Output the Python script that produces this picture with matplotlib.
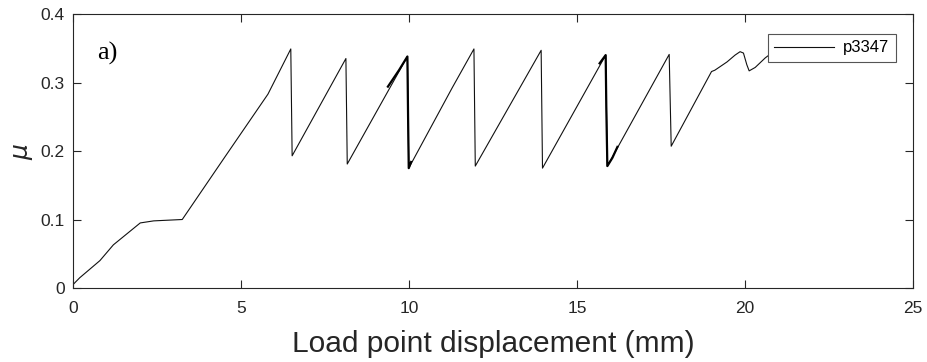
import matplotlib
matplotlib.use("Agg")
import matplotlib.pyplot as plt

# friction coefficient vs load point displacement, run p3347
disp = [0.0, 0.2, 0.8, 1.2, 2.0, 2.4, 3.25, 4.5, 5.8, 6.48, 6.52,
        8.12, 8.16, 9.95, 9.99, 11.28, 11.93, 11.97,
        13.93, 13.97, 15.85, 15.9, 17.74, 17.8,
        19.0, 19.1, 19.46, 19.7, 19.85, 19.95, 20.05, 20.12,
        20.3, 20.6, 20.9]
mu = [0.005, 0.015, 0.04, 0.063, 0.095, 0.098, 0.1, 0.19, 0.283, 0.349, 0.193,
      0.335, 0.181, 0.338, 0.175, 0.292, 0.349, 0.178,
      0.347, 0.175, 0.340, 0.178, 0.341, 0.207,
      0.316, 0.318, 0.330, 0.340, 0.345, 0.343, 0.326, 0.317,
      0.322, 0.336, 0.347]

# noisier (thicker-looking) stretches
bold1_x = [9.37, 9.7, 9.95, 9.97, 9.99, 10.06]
bold1_mu = [0.294, 0.318, 0.338, 0.25, 0.175, 0.184]
bold2_x = [15.67, 15.85, 15.87, 15.9, 16.05, 16.2]
bold2_mu = [0.328, 0.340, 0.26, 0.178, 0.190, 0.206]

xticks = [0, 5, 10, 15, 20, 25]
yticks = [0, 0.1, 0.2, 0.3, 0.4]

plt.rcParams['font.family'] = ['Liberation Sans', 'DejaVu Sans']
axcol = '#262626'

fig = plt.figure(figsize=(9.28, 3.62), dpi=100)
ax = fig.add_axes([0.0787, 0.2044, 0.9053, 0.7569])

ax.plot(disp, mu, color='#111111', lw=0.8, label='p3347')
ax.plot(bold1_x, bold1_mu, color='#000000', lw=1.6)
ax.plot(bold2_x, bold2_mu, color='#000000', lw=1.6)

ax.set_xlim(0, 25)
ax.set_ylim(0, 0.4)
ax.set_xticks(xticks)
ax.set_yticks(yticks)
ax.set_xticklabels([str(t) for t in xticks])
ax.set_yticklabels(['0', '0.1', '0.2', '0.3', '0.4'])
ax.tick_params(direction='in', length=6, width=0.8, colors=axcol,
               labelsize=12.5, top=True, right=True)
ax.tick_params(axis='x', pad=9.5)
ax.tick_params(axis='y', pad=6)
for s in ax.spines.values():
    s.set_color(axcol)
    s.set_linewidth(0.8)

ax.set_xlabel('Load point displacement (mm)', fontsize=21.5, color=axcol, labelpad=10)
ax.set_ylabel(r'$\mu$', fontsize=18, color=axcol, labelpad=4)

ax.text(0.029, 0.855, 'a)', transform=ax.transAxes, fontsize=19,
        family='Liberation Serif', va='center', ha='left', color='black')

leg = ax.legend(loc='upper right', bbox_to_anchor=(0.979, 0.928), borderaxespad=0,
                fancybox=False, edgecolor='#555555', fontsize=12,
                handlelength=3.6, borderpad=0.4, handletextpad=0.5,
                framealpha=1)
leg.get_frame().set_linewidth(0.8)

fig.savefig('out.png', dpi=100)
